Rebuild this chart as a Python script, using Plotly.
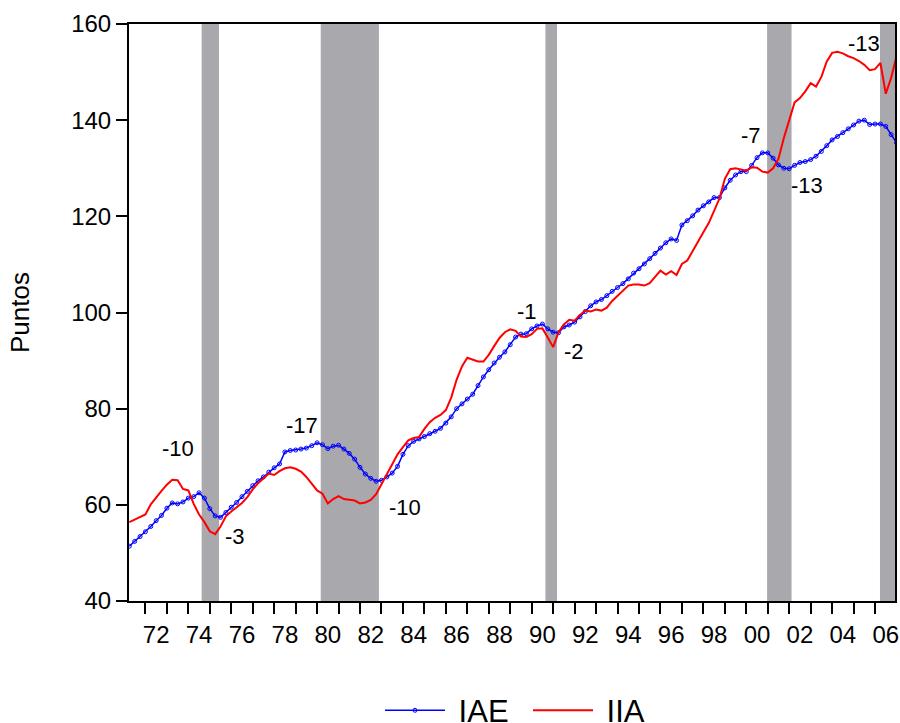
import plotly.graph_objects as go

# ---------------- data (quarterly) ----------------
start_year = 1971.25
step = 0.25

iae = [51.4, 52.4, 53.4,
       54.4, 55.5, 56.7, 57.8,
       59.3, 60.4, 60.2, 60.6,
       61.4, 61.7, 62.5, 61.4,
       59.2, 57.7, 57.4, 58.4,
       59.5, 60.5, 61.7, 62.8,
       64.0, 65.0, 65.8, 66.8,
       67.7, 68.5, 71.0, 71.3,
       71.4, 71.6, 71.8, 72.3,
       72.9, 72.5, 71.7, 72.2,
       72.4, 71.6, 70.7, 69.5,
       67.8, 66.4, 65.5, 64.9,
       65.1, 65.8, 66.6, 68.0,
       70.5, 72.3, 73.2, 73.7,
       74.2, 74.8, 75.3, 75.9,
       77.0, 78.3, 80.0, 81.0,
       82.0, 83.0, 84.8, 86.6,
       88.1, 89.5, 90.7, 91.8,
       93.3, 94.9, 95.5, 95.6,
       96.6, 97.2, 97.6, 96.6,
       95.9, 95.8, 97.0, 97.4,
       98.0, 99.1, 100.2, 101.4,
       102.2, 102.7, 103.5, 104.4,
       105.2, 106.0, 107.0, 108.2,
       109.1, 110.1, 111.2, 112.3,
       113.4, 114.5, 115.3, 115.0,
       118.2, 119.1, 120.1, 121.3,
       122.2, 123.0, 123.9, 123.9,
       125.9, 127.5, 128.6, 129.3,
       129.3, 130.6, 132.2, 133.2,
       133.2, 132.1, 130.7, 130.0,
       129.9, 130.6, 131.2, 131.4,
       131.8, 132.5, 133.5, 134.7,
       135.9, 136.6, 137.4, 138.2,
       139.0, 139.8, 140.0, 139.1,
       139.2, 139.2, 138.7, 137.0,
       135.3]

iia = [56.4, 56.9, 57.4,
       58.0, 60.1, 61.6, 62.9,
       64.2, 65.2, 65.1, 63.3,
       63.0, 60.2, 58.0, 56.4,
       54.5, 53.9, 55.5, 57.6,
       58.6, 59.5, 60.4, 61.6,
       63.2, 64.5, 65.6, 66.5,
       66.2, 67.0, 67.6, 67.8,
       67.5, 66.9, 65.8, 64.3,
       63.0, 62.3, 60.3, 61.2,
       61.8, 61.2, 61.1, 60.9,
       60.3, 60.5, 61.0, 62.2,
       64.3, 66.3, 68.2, 70.5,
       72.0, 73.4, 73.9, 74.1,
       75.8, 77.2, 78.1, 78.7,
       79.7, 82.3, 86.0, 88.8,
       90.6, 90.2, 89.8, 89.8,
       91.2, 93.0, 94.7, 95.9,
       96.5, 96.2, 95.0, 94.9,
       95.5, 96.6, 96.7, 94.8,
       92.8, 95.9, 97.5, 98.5,
       98.3, 99.5, 100.4, 100.2,
       100.6, 100.4, 101.0, 102.4,
       103.5, 104.7, 105.6, 105.8,
       105.8, 105.6, 106.1, 107.4,
       108.7, 107.9, 108.6, 107.8,
       110.1, 110.8, 112.8, 115.0,
       116.7, 118.6, 121.0, 123.7,
       127.8, 129.8, 130.0, 129.8,
       129.5, 130.2, 130.1, 129.3,
       129.1, 130.0, 132.0, 136.3,
       140.2, 143.7, 144.6, 146.0,
       147.7, 147.0, 149.0, 152.2,
       154.0, 154.2, 153.9, 153.3,
       152.9, 152.3, 151.5, 150.4,
       150.6, 151.9, 145.5, 148.8,
       153.3]

# recession periods (start, end) in decimal years
recessions = [(1974.62, 1975.43), (1980.17, 1982.88), (1990.64, 1991.18),
              (2000.97, 2002.11), (2006.23, 2007.2)]

# annotation labels (text, x, y)
labels = [("-10", 1973.51, 71.7), ("-3", 1976.16, 53.4), ("-17", 1979.31, 76.5),
          ("-10", 1984.09, 59.4), ("-1", 1989.78, 100.3), ("-2", 1991.97, 91.8),
          ("-7", 2000.20, 136.9), ("-13", 2002.82, 126.5), ("-13", 2005.47, 156.0)]

tick_years = list(range(1972, 2007, 2))
tick_text = [f"{y % 100:02d}" for y in tick_years]

years = [start_year + step * i for i in range(len(iae))]

FONT = "Liberation Sans, Arial, Helvetica, sans-serif"

fig = go.Figure()
fig.add_trace(go.Scatter(
    x=years, y=iae, name="\u00a0IAE", mode="lines+markers",
    line=dict(color="#0000FF", width=1.5),
    marker=dict(symbol="circle-open", size=4, color="#0000FF", line=dict(width=1)),
))
fig.add_trace(go.Scatter(
    x=years, y=iia, name="\u00a0IIA", mode="lines",
    line=dict(color="#FF0000", width=2),
))

for a, b in recessions:
    fig.add_shape(type="rect", xref="x", yref="paper", x0=a, x1=b, y0=0, y1=1,
                  fillcolor="#A9A8AD", line=dict(width=0), layer="below")

for t, x, y in labels:
    fig.add_annotation(x=x, y=y, xref="x", yref="y", text=t, showarrow=False,
                       font=dict(size=22, color="black", family=FONT))

fig.update_layout(
    width=900, height=723,
    margin=dict(l=129, r=5, t=24, b=122, autoexpand=False),
    paper_bgcolor="white", plot_bgcolor="white",
    font=dict(family=FONT, color="black", size=24),
    showlegend=True,
    legend=dict(orientation="h", x=(383 - 129 - 3) / 766, xanchor="left",
                y=-0.19, yanchor="middle",
                font=dict(size=31, family=FONT), bgcolor="rgba(0,0,0,0)",
                itemwidth=60, entrywidth=73, tracegroupgap=0),
)

fig.update_xaxes(
    range=[1971.235, 2006.93], automargin=False,
    tickmode="array", tickvals=[y + 0.5 for y in tick_years], ticktext=tick_text,
    ticks="outside", ticklen=11, tickcolor="rgba(0,0,0,0)",
    showgrid=False, zeroline=False,
    showline=True, linecolor="black", linewidth=2, mirror=True,
    tickfont=dict(size=24),
    minor=dict(tickmode="linear", tick0=1972, dtick=1, ticks="outside",
               ticklen=11, tickwidth=1.5, tickcolor="black", showgrid=False),
)
fig.update_yaxes(
    range=[40, 160], automargin=False,
    tickmode="array", tickvals=[40, 60, 80, 100, 120, 140, 160],
    ticks="outside", ticklen=11, tickwidth=1.5, tickcolor="black",
    showgrid=False, zeroline=False,
    showline=True, linecolor="black", linewidth=2, mirror=True,
    tickfont=dict(size=24),
    title=dict(text="Puntos", font=dict(size=26), standoff=34),
)

fig.write_html("out.html", config={"displayModeBar": False},
               post_script="document.body.style.margin='0px';document.body.style.overflow='hidden';")
